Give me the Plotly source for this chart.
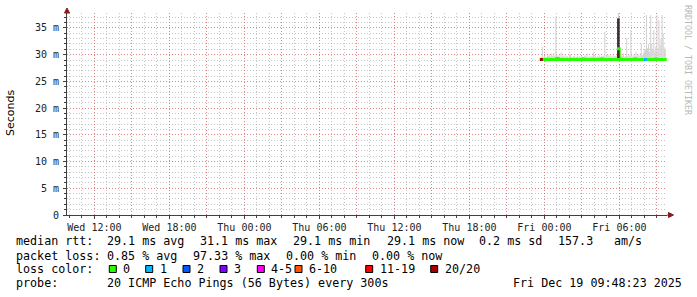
import math
import pandas as pd
import plotly.graph_objects as go

# ---------------- data ----------------
sample_start = "2025-12-18 23:45"
n_samples = 120
times = pd.date_range(sample_start, periods=n_samples, freq="5min")

# median rtt (ms)
median_rtt = [29.1] * n_samples
for i, v in {15: 29.3, 16: 29.2, 40: 29.2, 58: 29.2, 74: 31.1, 90: 29.2, 110: 29.2}.items():
    median_rtt[i] = v

# packet loss (%)
loss_pct = [0.0] * n_samples
loss_pct[0] = 97.33
loss_pct[100] = 5.0

# smoke: min / max ping (ms)
smoke_lo = [28.9] * n_samples
smoke_hi = [
    29.6, 31.5, 29.5, 29.8, 29.6, 29.5, 29.9, 29.7, 30.0, 29.6,
    30.2, 29.8, 30.3, 29.7, 37.1, 30.1, 29.6, 29.9, 29.5, 30.4,
    29.7, 29.8, 29.5, 30.0, 29.6, 29.7, 29.5, 29.9, 30.1, 29.6,
    29.5, 29.7, 29.8, 29.5, 29.6, 29.9, 29.5, 29.7, 29.6, 29.8,
    29.5, 29.6, 29.9, 29.7, 30.2, 29.6, 29.5, 29.8, 29.6, 29.7,
    30.5, 29.6, 29.8, 29.5, 29.7, 29.6, 29.9, 29.5, 29.8, 29.6,
    29.9, 34.3, 29.7, 29.8, 30.0, 29.6, 30.1, 29.7, 29.5, 29.9,
    29.6, 29.8, 29.7, 30.0, 38.5, 29.8, 29.6, 29.9, 29.7, 30.2,
    29.6, 29.8, 33.1, 29.7, 30.0, 29.8, 34.6, 29.9, 29.6, 30.1,
    29.7, 30.5, 29.8, 30.0, 29.7, 30.3, 32.1, 29.9, 30.4, 30.8,
    31.0, 37.4, 31.2, 32.0, 30.6, 37.4, 32.1, 31.0, 34.6, 30.8,
    31.5, 37.4, 31.2, 36.5, 31.8, 33.0, 37.4, 34.0, 31.4, 31.0,
]
# dense (dark) smoke
dense_lo = {74: 29.0}
dense_hi = {74: 36.8}

# loss colour classes (upper bound of lost pings out of 20)
loss_labels = ["0", "1", "2", "3", "4-5", "6-10", "11-19", "20/20"]
loss_upper = [0, 1, 2, 3, 5, 10, 19, 20]
loss_colors = ["#26ff00", "#00b8ff", "#0059ff", "#7e00ff", "#ff00ff", "#ff5500", "#ff0000", "#a00000"]

# text rows
row_median = ["median rtt:", "29.1 ms avg", "31.1 ms max", "29.1 ms min", "29.1 ms now", "0.2 ms sd", "157.3", "am/s"]
row_loss = ["packet loss:", "0.85 % avg", "97.33 % max", "0.00 % min", "0.00 % now"]
row_probe = ["probe:", "20 ICMP Echo Pings (56 Bytes) every 300s", "Fri Dec 19 09:48:23 2025"]

x_start = pd.Timestamp("2025-12-17 09:48:23")
x_end = pd.Timestamp("2025-12-19 09:48:23")
y_max = 37.8

# ---------------- layout helpers ----------------
W, H = 697, 297
L, R, T, B = 67, 667, 13, 215


def px_x(x):
    return (x - L) / (R - L)


def px_y(y):
    return (B - y) / (B - T)


fig = go.Figure()

# light smoke
fig.add_trace(go.Bar(
    x=times, y=[h - l for h, l in zip(smoke_hi, smoke_lo)], base=smoke_lo,
    width=300000, marker=dict(color="#d2d2d2", line=dict(width=0)),
    hoverinfo="skip", showlegend=False,
))

# median line
fig.add_trace(go.Scatter(
    x=times, y=median_rtt, mode="lines", line=dict(color="#26ff00", width=2.6, shape="hv"),
    hoverinfo="skip", showlegend=False,
))

# dense smoke (vertical strokes)
dx, dy = [], []
for i in dense_lo:
    dx += [times[i], times[i], None]
    dy += [dense_lo[i], dense_hi[i], None]
fig.add_trace(go.Scatter(
    x=dx, y=dy, mode="lines", line=dict(color="#3d2e2e", width=2.6),
    hoverinfo="skip", showlegend=False,
))


def loss_class(pct):
    cnt = math.ceil(pct / 100 * 20 - 1e-9)
    for k, ub in enumerate(loss_upper):
        if cnt <= ub:
            return k
    return len(loss_upper) - 1


cls = [loss_class(p) for p in loss_pct]
for k, col in enumerate(loss_colors):
    xs = [t for t, c in zip(times, cls) if c == k]
    ys = [m for m, c in zip(median_rtt, cls) if c == k]
    if not xs:
        continue
    fig.add_trace(go.Scatter(
        x=xs, y=ys, mode="markers",
        marker=dict(symbol="square", size=3, color=col, line=dict(width=0)),
        hoverinfo="skip", showlegend=False,
    ))

# ---------------- axes ----------------
major_x = pd.date_range("2025-12-17 12:00", "2025-12-19 09:00", freq="3h")
major_txt = [t.strftime("%a %H:%M") if t.hour % 6 == 0 else "" for t in major_x]
minor_x = pd.date_range("2025-12-17 10:00", "2025-12-19 09:00", freq="1h")

mono = "DejaVu Sans Mono"
red_grid = "rgba(230,110,110,0.75)"
grey_grid = "rgba(160,160,160,0.6)"

fig.update_xaxes(
    type="date", range=[x_start, x_end],
    tickmode="array", tickvals=list(major_x), ticktext=major_txt,
    showgrid=True, gridcolor=red_grid, griddash="1px,2px", gridwidth=1,
    ticks="outside", ticklen=3, tickcolor="#404040",
    minor=dict(tickmode="array", tickvals=list(minor_x), showgrid=True,
               gridcolor=grey_grid, griddash="1px,2px", ticks="outside", ticklen=2,
               tickcolor="#404040"),
    showline=True, linecolor="#404040", linewidth=1,
    tickfont=dict(family=mono, size=10, color="#222"),
    zeroline=False, fixedrange=True,
)
y_ticks = list(range(0, 36, 5))
fig.update_yaxes(
    range=[0, y_max], tickmode="array", tickvals=y_ticks,
    ticktext=["0" if v == 0 else f"{v} m" for v in y_ticks],
    showgrid=True, gridcolor=red_grid, griddash="1px,2px", gridwidth=1,
    ticks="outside", ticklen=3, tickcolor="#404040",
    minor=dict(dtick=1, tick0=0, showgrid=True, gridcolor=grey_grid, griddash="1px,2px",
               ticks="outside", ticklen=2, tickcolor="#404040"),
    showline=True, linecolor="#404040", linewidth=1,
    tickfont=dict(family=mono, size=10, color="#222"),
    ticklabelstandoff=2,
    zeroline=False, fixedrange=True,
)

# ---------------- decorations ----------------
shapes = []
arrow_col = "#8b1a1a"
# extend axes to arrows
shapes.append(dict(type="line", xref="paper", yref="paper", x0=px_x(L), x1=px_x(L),
                   y0=px_y(T), y1=px_y(10), line=dict(color="#404040", width=1)))
shapes.append(dict(type="line", xref="paper", yref="paper", x0=px_x(R), x1=px_x(669),
                   y0=px_y(B), y1=px_y(B), line=dict(color="#404040", width=1)))
shapes.append(dict(type="path", xref="paper", yref="paper",
                   path=(f"M{px_x(64.5):.5f},{px_y(13):.5f}L{px_x(69.5):.5f},{px_y(13):.5f}"
                         f"L{px_x(67):.5f},{px_y(8):.5f}Z"),
                   fillcolor=arrow_col, line=dict(color=arrow_col, width=1)))
shapes.append(dict(type="path", xref="paper", yref="paper",
                   path=(f"M{px_x(668.5):.5f},{px_y(212.5):.5f}L{px_x(668.5):.5f},{px_y(217.5):.5f}"
                         f"L{px_x(673.5):.5f},{px_y(215):.5f}Z"),
                   fillcolor=arrow_col, line=dict(color=arrow_col, width=1)))

annotations = []
txt_font = dict(family=mono, size=11.7, color="#000")


def add_text(x, y, text, **kw):
    annotations.append(dict(xref="paper", yref="paper", x=px_x(x), y=px_y(y), text=text,
                            showarrow=False, xanchor="left", yanchor="middle",
                            font=kw.get("font", txt_font), borderpad=0))


row1_x = [16, 107.3, 200, 293.3, 386.7, 479.3, 558.3, 614]
row2_x = [16, 107.3, 193.3, 286, 372.3]
row4_x = [16, 107.3, 513.3]
for t, x in zip(row_median, row1_x):
    add_text(x - 1, 241, t)
for t, x in zip(row_loss, row2_x):
    add_text(x - 1, 255.5, t)
add_text(15, 269, "loss color:")
sq_x = [109.3, 145.7, 183, 220, 257.3, 295, 365.7, 430.7]
for lab, col, x in zip(loss_labels, loss_colors, sq_x):
    shapes.append(dict(type="rect", xref="paper", yref="paper",
                       x0=px_x(x), x1=px_x(x + 7), y0=px_y(265.5), y1=px_y(272.5),
                       fillcolor=col, line=dict(color="#000", width=1)))
    add_text(x + 13, 269, lab)
for t, x in zip(row_probe, row4_x):
    add_text(x - 1, 283.3, t)

# y title
annotations.append(dict(xref="paper", yref="paper", x=px_x(10), y=px_y(113), text="Seconds",
                        showarrow=False, textangle=-90, xanchor="center", yanchor="middle",
                        font=dict(family="DejaVu Sans", size=11, color="#000")))
# watermark
annotations.append(dict(xref="paper", yref="paper", x=px_x(688), y=px_y(60),
                        text="RRDTOOL / TOBI OETIKER", showarrow=False, textangle=90,
                        xanchor="center", yanchor="middle",
                        font=dict(family=mono, size=8.3, color="#b8b8b8")))

fig.update_layout(
    width=W, height=H,
    margin=dict(l=L, r=W - R, t=T, b=H - B, pad=0),
    paper_bgcolor="white", plot_bgcolor="white",
    shapes=shapes, annotations=annotations,
    showlegend=False, hovermode=False, barmode="overlay",
)

fig.write_html("out.html", config={"displayModeBar": False, "staticPlot": True})
